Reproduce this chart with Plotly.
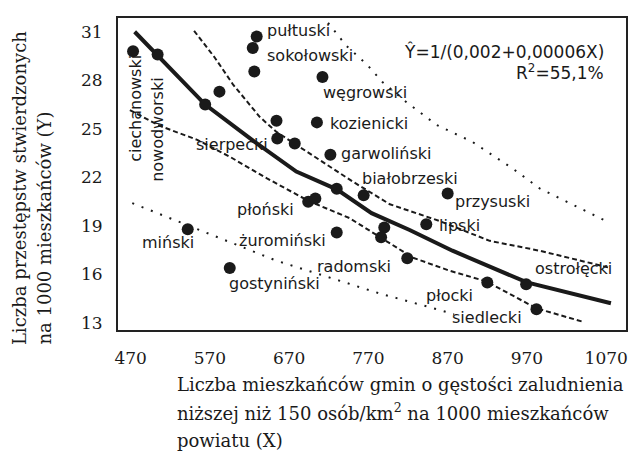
import plotly.graph_objects as go

# ---- data ----
pow_x = [473, 504, 564, 582, 629, 624, 626, 712, 654, 705, 655, 677, 722, 730,
         764, 694, 703, 730, 790, 786, 870, 843, 819, 920, 969, 982, 542, 595]
pow_y = [29.8, 29.6, 26.5, 27.3, 30.7, 30.0, 28.55, 28.2, 25.5, 25.4, 24.4, 24.1,
         23.4, 21.3, 20.9, 20.5, 20.7, 18.6, 18.9, 18.3, 21.0, 19.1, 17.0, 15.5,
         15.4, 13.85, 18.8, 16.4]

fit_x = [475, 503, 564, 626.5, 679, 730, 774, 822, 876, 970, 1076]
fit_y = [31.0, 29.6, 26.5, 24.2, 22.36, 21.26, 19.79, 18.75, 17.47, 15.51, 14.22]

conf_up_x = [550, 576, 599, 633, 654, 692, 750, 797, 860, 923, 986, 1074]
conf_up_y = [31.06, 29.41, 27.75, 25.73, 24.81, 23.59, 21.75, 20.34, 19.30, 18.08, 17.47, 16.42]

conf_lo_x = [469, 507, 554, 595, 642, 695, 746, 787, 826, 872, 919, 982, 1042]
conf_lo_y = [26.16, 25.18, 24.32, 23.28, 21.94, 20.53, 19.49, 18.26, 17.04, 16.24, 15.57, 13.91, 13.06]

pred_up_x = [719, 742, 768, 788, 818, 856, 901, 952, 986, 1027, 1070]
pred_up_y = [31.55, 30.14, 28.98, 27.88, 26.65, 25.24, 24.20, 22.55, 21.32, 20.34, 19.30]

pred_lo_x = [472, 528, 591, 654, 725, 784, 847, 878]
pred_lo_y = [20.41, 19.30, 18.08, 16.85, 15.75, 14.83, 13.98, 13.55]

x_ticks = [470, 570, 670, 770, 870, 970, 1070]
y_ticks = [13, 16, 19, 22, 25, 28, 31]

labels = [
    ("pułtuski", 682, 31.06), ("sokołowski", 696, 29.53), ("węgrowski", 766, 27.26),
    ("kozienicki", 771, 25.36), ("garwoliński", 793, 23.47), ("białobrzeski", 823, 21.94),
    ("przysuski", 927, 20.53), ("lipski", 885, 19.0), ("ostrołęcki", 1029, 16.36),
    ("płocki", 872, 14.71), ("siedlecki", 920, 13.36), ("radomski", 752, 16.49),
    ("żuromiński", 661, 18.08), ("płoński", 640, 20.04), ("miński", 517, 17.96),
    ("gostyniński", 652, 15.44), ("sierpecki", 598, 24.02),
]
vlabels = [("ciechanowski", 475, 26.28), ("nowodworski", 504.5, 24.94)]

SANS = "DejaVu Sans"
SERIF = "DejaVu Serif"
INK = "#1a1a1a"

fig = go.Figure()
fig.add_trace(go.Scatter(x=pred_up_x, y=pred_up_y, mode="lines",
                         line=dict(color=INK, width=2, dash="2px,8px")))
fig.add_trace(go.Scatter(x=pred_lo_x, y=pred_lo_y, mode="lines",
                         line=dict(color=INK, width=2, dash="2px,8px")))
fig.add_trace(go.Scatter(x=conf_up_x, y=conf_up_y, mode="lines",
                         line=dict(color=INK, width=2, dash="5px,3px")))
fig.add_trace(go.Scatter(x=conf_lo_x, y=conf_lo_y, mode="lines",
                         line=dict(color=INK, width=2, dash="5px,3px")))
fig.add_trace(go.Scatter(x=fit_x, y=fit_y, mode="lines",
                         line=dict(color=INK, width=4)))
fig.add_trace(go.Scatter(x=pow_x, y=pow_y, mode="markers",
                         marker=dict(color=INK, size=12)))

ann = []
for t, x, y in labels:
    ann.append(dict(text=t, x=x, y=y, xref="x", yref="y", showarrow=False,
                    xanchor="center", yanchor="middle",
                    font=dict(family=SANS, size=16, color=INK)))
for t, x, y in vlabels:
    ann.append(dict(text=t, x=x, y=y, xref="x", yref="y", showarrow=False,
                    textangle=-90, xanchor="center", yanchor="middle",
                    font=dict(family=SANS, size=16, color=INK)))

# regression formula
ann.append(dict(text="Ŷ=1/(0,002+0,00006X)", x=(607 - 118) / 509, y=(330 - 50) / 314,
                xref="paper", yref="paper", showarrow=False, xanchor="right", yanchor="middle",
                font=dict(family=SANS, size=17, color=INK)))
ann.append(dict(text="R<sup>2</sup>=55,1%", x=(607 - 118) / 509, y=(330 - 70) / 314,
                xref="paper", yref="paper", showarrow=False, xanchor="right", yanchor="middle",
                font=dict(family=SANS, size=17, color=INK)))

# y axis title (two lines, rotated, bottom aligned)
for t, px in [("Liczba przestępstw stwierdzonych", 20), ("na 1000 mieszkańców (Y)", 44)]:
    ann.append(dict(text=t, x=(px - 118) / 509, y=(330 - 347) / 314, xref="paper", yref="paper",
                    showarrow=False, textangle=-90, xanchor="center", yanchor="bottom",
                    font=dict(family=SERIF, size=18, color=INK)))

# x axis title (three lines, left aligned)
for t, py in [("Liczba mieszkańców gmin o gęstości zaludnienia", 385),
              ("niższej niż 150 osób/km<sup>2</sup> na 1000 mieszkańców", 413),
              ("powiatu (X)", 441)]:
    ann.append(dict(text=t, x=(175 - 118) / 509, y=(330 - py) / 314, xref="paper", yref="paper",
                    showarrow=False, xanchor="left", yanchor="middle",
                    font=dict(family=SERIF, size=18, color=INK)))

axis_common = dict(showgrid=False, zeroline=False, showline=True, mirror=True,
                   linecolor="#222", linewidth=2, ticks="outside",
                   tickcolor="rgba(0,0,0,0)",
                   tickfont=dict(family=SERIF, size=17, color=INK))

# the page body adds an 8px offset, so the figure is 8px smaller than the window
fig.update_layout(
    width=628, height=450,
    margin=dict(l=110, r=9, t=8, b=128),
    plot_bgcolor="white", paper_bgcolor="white",
    showlegend=False,
    xaxis=dict(range=[454, 1095], tickvals=x_ticks, ticklen=12, **axis_common),
    yaxis=dict(range=[12.57, 31.85], tickvals=y_ticks, ticklen=10, **axis_common),
    annotations=ann,
)

fig.write_html("out.html")
